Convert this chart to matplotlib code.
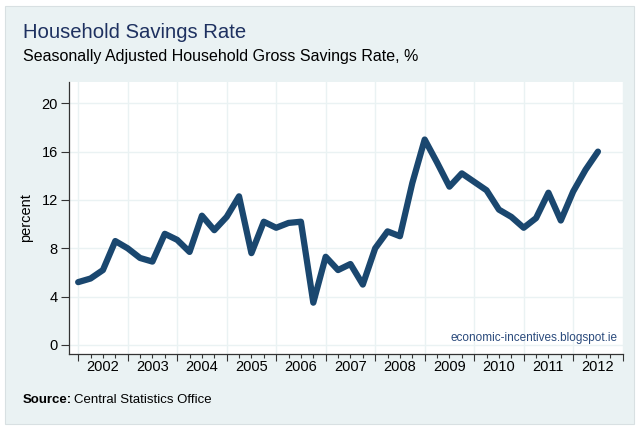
import matplotlib.pyplot as plt
from matplotlib.patches import Rectangle
import numpy as np

plt.rcParams['font.family'] = ['Liberation Sans', 'DejaVu Sans']

# quarterly, 2002Q1 .. 2012Q3
savings_rate = [5.2, 5.5, 6.2, 8.6, 8.0, 7.2, 6.9, 9.2, 8.7, 7.7,
                10.7, 9.5, 10.6, 12.3, 7.6, 10.2, 9.7, 10.1, 10.2, 3.5,
                7.3, 6.2, 6.7, 5.0, 8.0, 9.4, 9.0, 13.4, 17.0, 15.1,
                13.1, 14.2, 13.5, 12.8, 11.2, 10.6, 9.7, 10.5, 12.6, 10.3,
                12.7, 14.5, 16.0]
years = list(range(2002, 2013))
y_ticks = [0, 4, 8, 12, 16, 20]

BG = '#eaf2f3'
NAVY = '#1a476f'

quarters = np.arange(len(savings_rate))

fig = plt.figure(figsize=(6.4, 4.3), dpi=100)
fig.patch.set_facecolor('white')
panel = Rectangle((5 / 640, 6 / 430), 629 / 640, 418 / 430,
                  transform=fig.transFigure, facecolor=BG,
                  edgecolor='#d8e0e2', linewidth=0.8, zorder=-10)
fig.add_artist(panel)

ax = fig.add_axes([69 / 640, 76 / 430, 553.7 / 640, 272 / 430])
ax.set_facecolor('white')

ax.plot(quarters, savings_rate, color=NAVY, linewidth=4.5,
        solid_joinstyle='round', solid_capstyle='round', zorder=3)

ax.set_xlim(-0.74, 44.0)
ax.set_ylim(-0.745, 21.76)

# year boundaries as major ticks (with grid), quarters as minor ticks
year_starts = [4 * (y - years[0]) for y in years] + [4 * len(years)]
ax.set_xticks(year_starts)
ax.set_xticklabels([])
minor_pos = [q for q in range(4 * len(years)) if q % 4 != 0]
minor_labels = [str(years[q // 4]) if q % 4 == 2 else '' for q in minor_pos]
ax.set_xticks(minor_pos, minor_labels, minor=True)
ax.tick_params(axis='x', which='major', length=5, width=0.8, color='#333333')
ax.tick_params(axis='x', which='minor', length=3, width=0.8, color='#333333',
               labelsize=10.5, pad=1)

ax.set_yticks(y_ticks)
ax.tick_params(axis='y', length=6, width=0.8, color='#333333', labelsize=10.5, pad=2)

ax.grid(True, which='major', color=BG, linewidth=1.0, zorder=0)
ax.set_axisbelow(True)

for side in ['top', 'right']:
    ax.spines[side].set_visible(False)
for side in ['left', 'bottom']:
    ax.spines[side].set_color('#333333')
    ax.spines[side].set_linewidth(0.9)

ax.set_ylabel('percent', fontsize=10.5, labelpad=6)

ax.text(0.99, 0.035, 'economic-incentives.blogspot.ie', transform=ax.transAxes,
        ha='right', va='bottom', fontsize=8.5, color='#2a4a7c')

fig.text(23 / 640, 1 - 32.5 / 430, 'Household Savings Rate', fontsize=14.6,
         color='#1e3160', va='center', ha='left')
fig.text(23 / 640, 1 - 56 / 430, 'Seasonally Adjusted Household Gross Savings Rate, %',
         fontsize=11.5, color='black', va='center', ha='left')

fig.text(23 / 640, 1 - 400 / 430, 'Source:', fontsize=9.5, fontweight='bold',
         va='center', ha='left')
fig.text(74 / 640, 1 - 400 / 430, 'Central Statistics Office', fontsize=9.5,
         va='center', ha='left')

fig.savefig('out.png', dpi=100, facecolor=fig.get_facecolor())
